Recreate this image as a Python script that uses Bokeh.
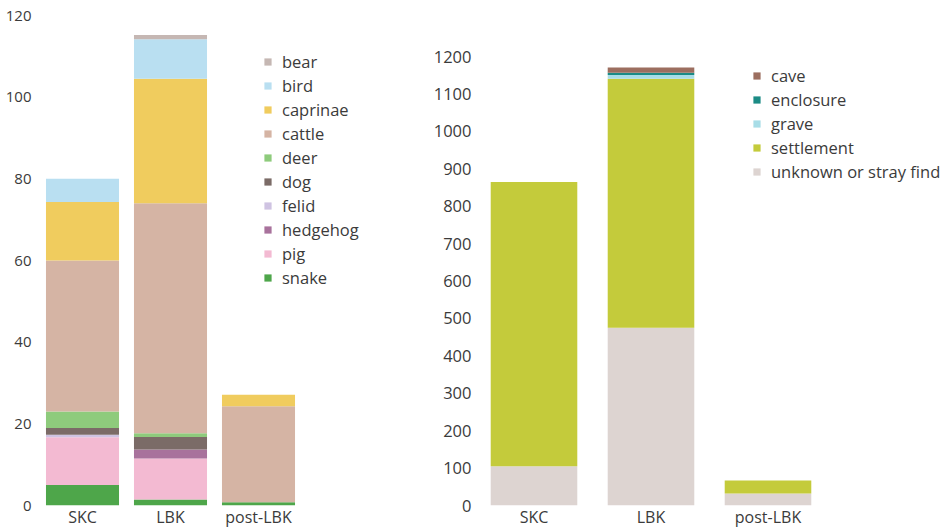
from bokeh.plotting import figure
from bokeh.layouts import row
from bokeh.models import Legend, LegendItem, FixedTicker, Range1d, ColumnDataSource
from bokeh.embed import file_html
from bokeh.resources import INLINE

periods = ["SKC", "LBK", "post-LBK"]

# left chart: taxa (stack order bottom -> top)
taxa = ["snake", "pig", "hedgehog", "felid", "dog", "deer", "cattle", "caprinae", "bird", "bear"]
snake = [5.0, 1.5, 0.8]
pig = [11.7, 10.0, 0.0]
hedgehog = [0.0, 2.2, 0.0]
felid = [0.6, 0.0, 0.0]
dog = [1.7, 3.1, 0.0]
deer = [4.0, 0.9, 0.0]
cattle = [37.0, 56.3, 23.5]
caprinae = [14.3, 30.5, 2.8]
bird = [5.7, 9.7, 0.0]
bear = [0.0, 1.0, 0.0]
taxa_colors = ["#4ea64a", "#f3bad2", "#a8729c", "#cfc3e2", "#7b6b67",
               "#8ecb7c", "#d5b4a4", "#f0cc5e", "#b9dff1", "#c5b7b3"]
left_ticks = [0, 20, 40, 60, 80, 100, 120]

# right chart: site types (stack order bottom -> top)
sites = ["unknown or stray find", "settlement", "grave", "enclosure", "cave"]
unknown = [105, 475, 32]
settlement = [760, 666, 35]
grave = [0, 10, 0]
enclosure = [0, 6, 0]
cave = [0, 14, 0]
site_colors = ["#ddd4d1", "#c4cb3b", "#a8dde7", "#1b8b85", "#9c6e5f"]
right_ticks = [0, 100, 200, 300, 400, 500, 600, 700, 800, 900, 1000, 1100, 1200]

FONT = "Open Sans"
TXT = "#3b3b3b"
H = 530

xs = list(range(len(periods)))


def style(p, yticks, ystandoff, ysize):
    p.xgrid.visible = False
    p.ygrid.visible = False
    p.outline_line_color = None
    for ax in (p.xaxis[0], p.yaxis[0]):
        ax.axis_line_color = None
        ax.major_tick_line_color = None
        ax.minor_tick_line_color = None
        ax.major_tick_in = 0
        ax.major_tick_out = 0
        ax.major_label_text_font = FONT
        ax.major_label_text_color = TXT
    p.xaxis[0].major_label_text_font_size = "16px"
    p.yaxis[0].major_label_text_font_size = ysize
    p.xaxis[0].ticker = FixedTicker(ticks=xs)
    p.xaxis[0].major_label_overrides = {i: name for i, name in enumerate(periods)}
    p.xaxis[0].major_label_standoff = 0
    p.yaxis[0].ticker = FixedTicker(ticks=yticks)
    p.yaxis[0].major_label_standoff = ystandoff


def make_legend(items, loc):
    return Legend(items=items, location=loc, padding=0, margin=0, spacing=1,
                  label_height=20, glyph_height=9, glyph_width=9, label_standoff=10,
                  border_line_alpha=0, background_fill_alpha=0,
                  label_text_font=FONT, label_text_font_size="16.5px", label_text_color=TXT)


# ---------------- left figure ----------------
left_w = 413
lp = figure(width=left_w, height=H, output_backend="svg", toolbar_location=None,
            x_range=Range1d(-0.5, -0.5 + (left_w - 38) / 88.0), y_range=Range1d(0, 120),
            min_border_left=38, min_border_right=0, min_border_top=15, min_border_bottom=0)
src_l = ColumnDataSource(dict(x=xs, snake=snake, pig=pig, hedgehog=hedgehog, felid=felid,
                              dog=dog, deer=deer, cattle=cattle, caprinae=caprinae,
                              bird=bird, bear=bear))
rl = lp.vbar_stack(taxa, x="x", width=0.83, color=taxa_colors, source=src_l, line_color=None)
style(lp, left_ticks, 7, "15px")
items_l = [LegendItem(label=t, renderers=[r]) for t, r in zip(taxa, rl)][::-1]
lp.add_layout(make_legend(items_l, (225, 216)), "center")

# ---------------- right figure ----------------
right_w = 532
rp = figure(width=right_w, height=H, output_backend="svg", toolbar_location=None,
            x_range=Range1d(-0.5, -0.5 + (right_w - 62) / 117.0), y_range=Range1d(0, 1310),
            min_border_left=62, min_border_right=0, min_border_top=15, min_border_bottom=0)
src_r = ColumnDataSource(dict(x=xs, unknown=unknown, settlement=settlement, grave=grave,
                              enclosure=enclosure, cave=cave))
rr = rp.vbar_stack(["unknown", "settlement", "grave", "enclosure", "cave"], x="x", width=0.74,
                   color=site_colors, source=src_r, line_color=None)
style(rp, right_ticks, 4, "16.5px")
items_r = [LegendItem(label=s, renderers=[r]) for s, r in zip(sites, rr)][::-1]
rp.add_layout(make_legend(items_r, (277, 322)), "center")

layout = row(lp, rp, spacing=0)
open("out.html", "w").write(file_html(layout, INLINE))
